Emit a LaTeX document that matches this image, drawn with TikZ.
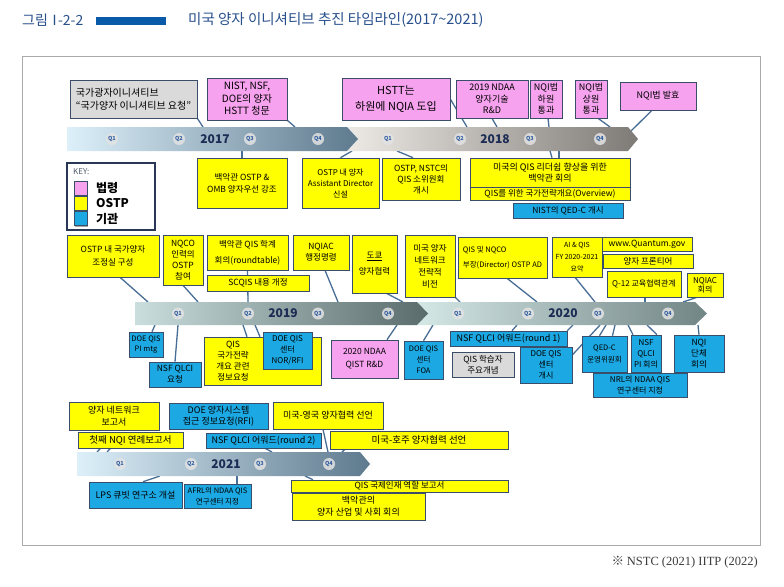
\documentclass[tikz,border=0pt]{standalone}
\usepackage{fontspec}
\setmainfont{Noto Sans CJK KR}
\newfontfamily\refserif{Liberation Serif}
\usepackage{tikz}
\usetikzlibrary{shadows}
\pgfdeclarelayer{bg}
\pgfsetlayers{bg,main}

\definecolor{lawpink}{RGB}{246,162,238}
\definecolor{ostpyel}{RGB}{255,255,0}
\definecolor{agencyblue}{RGB}{28,168,226}
\definecolor{notegray}{RGB}{218,218,218}
\definecolor{boxedge}{RGB}{58,78,105}
\definecolor{linkblue}{RGB}{72,110,150}
\definecolor{titleblue}{RGB}{40,80,140}
\definecolor{titlebar}{RGB}{10,90,170}
\definecolor{yearnavy}{RGB}{28,44,84}
\definecolor{qblue}{RGB}{50,95,160}
\definecolor{keynavy}{RGB}{40,55,85}
\definecolor{keygray}{RGB}{80,90,110}
\definecolor{framegray}{RGB}{170,170,170}
\definecolor{footgray}{RGB}{60,60,60}
\definecolor{bara}{RGB}{221,240,250}
\definecolor{barb}{RGB}{94,122,142}
\definecolor{barc}{RGB}{237,234,230}
\definecolor{bard}{RGB}{126,122,118}
\definecolor{bare}{RGB}{201,222,221}
\definecolor{barf}{RGB}{90,107,107}
\definecolor{barg}{RGB}{212,232,230}
\definecolor{barh}{RGB}{114,133,133}

\newcommand{\fz}[2]{\fontsize{#1}{#2}\selectfont}

\tikzset{
    tbox/.style={draw=boxedge, line width=.6pt, align=center, inner sep=1pt,
        drop shadow={shadow xshift=1pt, shadow yshift=-1pt, opacity=.35, fill=black},
        font=\fz{9}{11}},
    lawbox/.style={tbox, fill=lawpink},
    ostpbox/.style={tbox, fill=ostpyel},
    agbox/.style={tbox, fill=agencyblue},
    notebox/.style={tbox, fill=notegray},
    sz/.style 2 args={minimum width=#1, minimum height=#2},
    link/.style={draw=linkblue, line width=1.3pt},
    quarter/.style={circle, fill=gray!22, fill opacity=.85, text opacity=1, inner sep=0,
        minimum size=12pt, text=qblue, font=\fz{5.5}{6}\bfseries},
    yearlbl/.style={font=\fz{12}{13}\bfseries, text=yearnavy},
}

\begin{document}
\begin{tikzpicture}[x=1pt, y=-1pt]
    \useasboundingbox (0, 0) rectangle (784, 586);

    % title and frame
    \node[anchor=west, font=\fz{14}{16}, text=titleblue, inner sep=0] (fignum) at (22, 20) {그림 \hspace{-3.5pt}Ⅰ\hspace{-3.5pt}-2-2};
    \fill[titlebar] (96, 17) rectangle (166, 25);
    \node[anchor=west, font=\fz{14.5}{16}, text=titleblue, inner sep=0] (title) at (188, 20) {미국 양자 이니셔티브 추진 타임라인(2017\textasciitilde 2021)};
    \draw[framegray, line width=1pt] (22, 57) rectangle (760, 545);
    \node[anchor=east, font=\fz{12.5}{14}, text=footgray, inner sep=0] (src) at (758, 562) {※ {\refserif NSTC (2021) IITP (2022)}};

    % timeline bars
    \shade[left color=barc, right color=bard] (347, 127) -- (628, 127) -- (638, 139) -- (628, 151) -- (347, 151) -- cycle;
    \shade[left color=bara, right color=barb] (67, 127) -- (347, 127) -- (358, 139) -- (347, 151) -- (67, 151) -- cycle;
    \shade[left color=barg, right color=barh] (417, 302) -- (695, 302) -- (707, 313.5) -- (695, 325) -- (417, 325) -- cycle;
    \shade[left color=bare, right color=barf] (135, 302) -- (417, 302) -- (428, 313.5) -- (417, 325) -- (135, 325) -- cycle;
    \shade[left color=bara, right color=barb] (77, 452) -- (360, 452) -- (370, 464) -- (360, 476) -- (77, 476) -- cycle;

    \foreach \x [count=\i] in {112, 179, 250, 318} \node[quarter] (qa\i) at (\x, 139) {Q\i};
    \foreach \x [count=\i] in {388, 460, 530, 600} \node[quarter] (qb\i) at (\x, 139) {Q\i};
    \foreach \x [count=\i] in {178, 248, 318, 388} \node[quarter] (qc\i) at (\x, 313.5) {Q\i};
    \foreach \x [count=\i] in {458, 528, 598, 668} \node[quarter] (qd\i) at (\x, 313.5) {Q\i};
    \foreach \x [count=\i] in {120, 191, 260, 329} \node[quarter] (qe\i) at (\x, 464) {Q\i};
    \node[yearlbl] (yr17) at (215, 139) {2017};
    \node[yearlbl] (yr18) at (495, 139) {2018};
    \node[yearlbl] (yr19) at (283, 313.5) {2019};
    \node[yearlbl] (yr20) at (563, 313.5) {2020};
    \node[yearlbl] (yr21) at (226, 464) {2021};

    % key
    \node[draw=keynavy, line width=1.6pt, fill=white, sz={88}{67}] (key) at (111, 196.5) {};
    \node[anchor=west, font=\fz{8}{9}, text=keygray, inner sep=0] (keyttl) at (73, 172) {KEY:};
    \node[lawbox, sz={13}{14}] (kl) at (80.5, 188) {};
    \node[ostpbox, sz={13}{14}] (ko) at (80.5, 203.5) {};
    \node[agbox, sz={13}{14}] (ka) at (80.5, 218.5) {};
    \node[anchor=west, font=\fz{12}{13}\bfseries, inner sep=0] (kllbl) at (96, 188) {법령};
    \node[anchor=west, font=\fz{12}{13}\bfseries, inner sep=0] (kolbl) at (96, 203.5) {OSTP};
    \node[anchor=west, font=\fz{12}{13}\bfseries, inner sep=0] (kalbl) at (96, 218.5) {기관};

    % 2017-2018
    \node[notebox, sz={127}{38}, align=left, font=\fz{10}{13}] (gray) at (133.5, 99) {국가광자이니셔티브\\“국가양자 이니셔티브 요청”};
    \node[lawbox, sz={80}{42}, font=\fz{10}{12.5}] (nist) at (247, 99) {NIST, NSF,\\DOE의 양자\\HSTT 청문};
    \node[lawbox, sz={108}{42}, font=\fz{11}{16}] (hstt) at (396, 99) {HSTT는\\하원에 NQIA 도입};
    \node[lawbox, sz={72}{38}, font=\fz{9}{11.5}] (ndaa) at (492, 99) {2019 NDAA\\양자기술\\R\&D};
    \node[lawbox, sz={32}{38}, font=\fz{9}{11.5}] (nqih) at (546, 99) {NQI법\\하원\\통과};
    \node[lawbox, sz={32}{38}, font=\fz{9}{11.5}] (nqis) at (591, 99) {NQI법\\상원\\통과};
    \node[lawbox, sz={76}{28}, font=\fz{9}{11}] (nqif) at (658, 96) {NQI법 발효};
    \node[ostpbox, sz={90}{50}, font=\fz{8.5}{12}] (omb) at (242, 183) {백악관 OSTP \&\\OMB 양자우선 강조};
    \node[ostpbox, sz={77}{50}, font=\fz{8}{11}] (ostpad) at (340.5, 183) {OSTP 내 양자\\Assistant Director\\신설};
    \node[ostpbox, sz={78}{42}, font=\fz{8.5}{11}] (nstc) at (421, 179) {OSTP, NSTC의\\QIS 소위원회\\개시};
    \node[ostpbox, sz={160}{29}, font=\fz{9}{11}] (leader) at (550, 172.5) {미국의 QIS 리더쉽 향상을 위한\\백악관 회의};
    \node[ostpbox, sz={160}{13}, font=\fz{8.5}{10}] (qisov) at (550, 193.5) {QIS를 위한 국가전략개요(Overview)};
    \node[agbox, sz={110}{15}, font=\fz{8.5}{10}] (qedcnist) at (568, 210.5) {NIST의 QED-C 개시};

    % 2019-2020
    \node[ostpbox, sz={92}{42}, font=\fz{8.5}{13}] (natq) at (113, 256) {OSTP 내 국가양자\\조정실 구성};
    \node[ostpbox, sz={40}{50}, font=\fz{8.5}{11}] (nqco) at (183, 260) {NQCO\\인력의\\OSTP\\참여};
    \node[ostpbox, sz={81}{35}, font=\fz{8.5}{10}] (roundtbl) at (247.5, 252.5) {백악관 QIS 학계\\[6pt]회의(roundtable)};
    \node[ostpbox, sz={102}{16}, font=\fz{8.5}{10}] (scqis) at (258, 283) {SCQIS 내용 개정};
    \node[ostpbox, sz={56}{35}, font=\fz{8.5}{11}] (nqiac) at (321, 252.5) {NQIAC\\행정명령};
    \node[ostpbox, sz={45}{58}, font=\fz{8.5}{11}] (tokyo) at (374.5, 264) {\underline{도쿄}\\[5pt]양자협력};
    \node[ostpbox, sz={50}{62}, font=\fz{8.5}{12}] (netvis) at (430, 266) {미국 양자\\네트워크\\전략적\\비전};
    \node[ostpbox, sz={89}{41}, font=\fz{7.5}{15}, align=left] (qisnqco) at (502.5, 257.5) {QIS 및 NQCO\\부장(Director) OSTP AD};
    \node[ostpbox, sz={50}{40}, font=\fz{7}{12}] (aiqis) at (577, 257) {AI \& QIS\\FY 2020-2021\\요약};
    \node[ostpbox, sz={90}{14}, font=\fz{8.5}{10}] (qgov) at (647, 244) {www.Quantum.gov};
    \node[ostpbox, sz={90}{14}, font=\fz{8.5}{10}] (frontier) at (648, 261) {양자 프론티어};
    \node[ostpbox, sz={74}{26}, font=\fz{8}{10}] (qk12) at (644, 284) {Q-12 교육협력관계};
    \node[ostpbox, sz={36}{24}, font=\fz{8}{9}] (nqiacm) at (705, 285) {NQIAC\\회의};
    \node[agbox, sz={34}{25}, font=\fz{7.5}{10}] (pimtg) at (146, 344.5) {DOE QIS\\PI mtg};
    \node[agbox, sz={52}{25}, font=\fz{8.5}{11}] (qlcireq) at (175, 374.5) {NSF QLCI\\요청};
    \node[ostpbox, sz={117}{48}, label={[font=\fz{8.5}{11}, align=center, xshift=-29.5pt]center:{QIS\\국가전략\\개요 관련\\정보요청}}] (qisrfi) at (262.5, 361) {};
    \node[agbox, sz={49}{37}, font=\fz{8}{11}] (nor) at (287.5, 350.5) {DOE QIS\\센터\\NOR/RFI};
    \node[lawbox, sz={67}{38}, font=\fz{8.5}{13}] (ndaa20) at (364.5, 359) {2020 NDAA\\QIST R\&D};
    \node[agbox, sz={39}{38}, font=\fz{7.5}{11}] (foa) at (423.5, 360) {DOE QIS\\센터\\FOA};
    \node[agbox, sz={117}{15}, font=\fz{9}{10}] (round1) at (508.5, 338.5) {NSF QLCI 어워드(round 1)};
    \node[notebox, sz={62}{25}, font=\fz{8.5}{11}] (learner) at (483, 364.5) {QIS 학습자\\주요개념};
    \node[agbox, sz={52}{36}, font=\fz{8}{11}] (kaesi) at (546, 365) {DOE QIS\\센터\\개시};
    \node[agbox, sz={45}{36}, font=\fz{7.5}{12}] (qedc) at (604.5, 354) {QED-C\\운영위원회};
    \node[agbox, sz={30}{37}, font=\fz{8}{11}] (nsfpi) at (646, 353.5) {NSF\\QLCI\\PI 회의};
    \node[agbox, sz={94}{24}, font=\fz{8}{11}] (nrl) at (640, 385) {NRL의 NDAA QIS\\연구센터 지정};
    \node[agbox, sz={50}{37}, font=\fz{8.5}{11}] (nqidan) at (699, 353.5) {NQI\\단체\\회의};

    % 2021
    \node[ostpbox, sz={90}{28}, font=\fz{9}{11.5}] (netrep) at (114, 416) {양자 네트워크\\보고서};
    \node[ostpbox, sz={105}{16}, font=\fz{9.5}{10}] (nqi1) at (130.5, 440) {첫째 NQI 연례보고서};
    \node[agbox, sz={99}{26}, font=\fz{9}{11.5}] (doerfi) at (218.5, 416) {DOE 양자시스템\\접근 정보요청(RFI)};
    \node[agbox, sz={115}{15}, font=\fz{9}{10}] (round2) at (263.5, 440.5) {NSF QLCI 어워드(round 2)};
    \node[ostpbox, sz={110}{27}, font=\fz{9}{10}] (ukdecl) at (328, 415.5) {미국-영국 양자협력 선언};
    \node[ostpbox, sz={178}{18}, font=\fz{9.5}{10}] (audecl) at (419, 440) {미국-호주 양자협력 선언};
    \node[agbox, sz={93}{26}, font=\fz{9}{10}] (lps) at (135.5, 495) {LPS 큐빗 연구소 개설};
    \node[agbox, sz={67}{24}, font=\fz{7.5}{10.5}] (afrl) at (217.5, 496) {AFRL의 NDAA QIS\\연구센터 지정};
    \node[ostpbox, sz={217}{12}, font=\fz{8.5}{9}] (talent) at (399.5, 486) {QIS 국제인재 역할 보고서};
    \node[ostpbox, sz={133}{27}, font=\fz{9}{12}] (whmeet) at (358.5, 506.5) {백악관의\\양자 산업 및 사회 회의};

    % points on the bars
    \foreach \n/\p in {p1/{203, 127}, p2/{295, 127}, p3/{467, 127}, p4/{497, 127}, p5/{549, 127},
            p6/{610, 127}, p7/{631, 131}, p8/{242, 151}, p9/{352, 151}, p10/{397, 151},
            p11/{550, 151}, p12/{559, 151}, p13/{148, 302}, p14/{198, 302}, p15/{248, 302},
            p16/{338, 302}, p17/{403, 302}, p18/{460, 302}, p19/{537, 302}, p20/{595, 302},
            p21/{645, 302}, p22/{683, 302}, p23/{155, 325}, p24/{178, 325}, p25/{243, 325},
            p26/{255, 325}, p27/{397, 325}, p28/{433, 325}, p29/{517, 325}, p30/{573, 325},
            p31/{600, 325}, p32/{606, 325}, p33/{615, 325}, p34/{628, 325}, p35/{647, 325},
            p36/{698, 325}, p37/{97, 452}, p38/{107, 452}, p39/{272, 452}, p40/{328, 452},
            p41/{342, 452}, p42/{160, 476}, p43/{237, 476}, p44/{305, 476}}
        \coordinate (\n) at (\p);

    \begin{pgfonlayer}{bg}
    \fill[white] (0, 0) rectangle (784, 586);
    \draw[link] (gray.south east) -- (p1);
    \draw[link] (nist.south east) -- (p2);
    \draw[link] (hstt.east) -- (p3);
    \draw[link] (ndaa.south) -- (p4);
    \draw[link] ([xshift=2pt]nqih.south) -- (p5);
    \draw[link] ([xshift=7pt]nqis.south) -- (p6);
    \draw[link] ([xshift=-6pt]nqif.south) -- (p7);
    \draw[link] (omb.north) -- (p8);
    \draw[link] (ostpad.north) -- (p9);
    \draw[link] ([xshift=-8pt]nstc.north) -- (p10);
    \draw[link] ([xshift=2pt]leader.north) -- (p11);
    \draw[link] ([xshift=9pt]leader.north) -- (p12);
    \draw[link] ([xshift=7pt]natq.south) -- (p13);
    \draw[link] (nqco.south) -- (p14);
    \draw[link] (roundtbl.south) -- (p15);
    \draw[link] ([xshift=4pt]nqiac.south) -- (p16);
    \draw[link] ([xshift=12pt]tokyo.south) -- (p17);
    \draw[link] (netvis.south east) -- (p18);
    \draw[link] ([xshift=4.5pt]qisnqco.south) -- (p19);
    \draw[link] ([xshift=-2pt]aiqis.south) -- (p20);
    \draw[link] ([xshift=1pt]qk12.south) -- (p21);
    \draw[link] ([xshift=-8pt]nqiacm.south) -- (p22);
    \draw[link] ([xshift=6pt]pimtg.north) -- (p23);
    \draw[link] (qlcireq.north) -- (p24);
    \draw[link] ([xshift=-15.5pt]qisrfi.north) -- (p25);
    \draw[link] ([xshift=-2.5pt]qisrfi.north) -- (p26);
    \draw[link] ([xshift=22.5pt]ndaa20.north) -- (p27);
    \draw[link] (foa.north) -- (p28);
    \draw[link] ([xshift=3.5pt]round1.north) -- (p29);
    \draw[link] (round1.north east) -- (p30);
    \draw[link] ([yshift=10pt]kaesi.east) -- (p31);
    \draw[link] ([xshift=-5pt]qedc.north) -- (p32);
    \draw[link] ([xshift=8pt]qedc.north) -- (p33);
    \draw[link] ([xshift=-13pt]nsfpi.north) -- (p34);
    \draw[link] ([xshift=11pt]nsfpi.north) -- (p35);
    \draw[link] (nqidan.north) -- (p36);
    \draw[link] ([xshift=-30pt]nqi1.south) -- (p37);
    \draw[link] ([xshift=-20pt]nqi1.south) -- (p38);
    \draw[link] ([xshift=1.5pt]round2.south) -- (p39);
    \draw[link] ([xshift=-5pt]ukdecl.south) -- (p40);
    \draw[link] ([xshift=-74pt]audecl.south) -- (p41);
    \draw[link] ([xshift=7.5pt]lps.north) -- (p42);
    \draw[link] ([xshift=19.5pt]afrl.north) -- (p43);
    \draw[link] ([xshift=-86.5pt]talent.north) -- (p44);
    \end{pgfonlayer}
\end{tikzpicture}
\end{document}
